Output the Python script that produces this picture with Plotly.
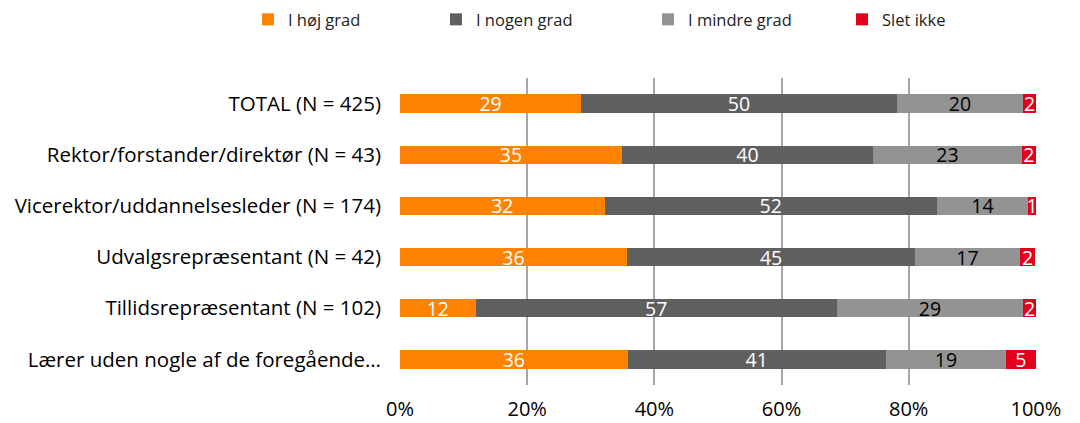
import plotly.graph_objects as go

categories = [
    "TOTAL (N = 425)",
    "Rektor/forstander/direktør (N = 43)",
    "Vicerektor/uddannelsesleder (N = 174)",
    "Udvalgsrepræsentant (N = 42)",
    "Tillidsrepræsentant (N = 102)",
    "Lærer uden nogle af de foregående…",
]

hoej_grad = [28.5, 34.9, 32.2, 35.7, 11.9, 35.8]
nogen_grad = [49.6, 39.5, 52.2, 45.3, 56.8, 40.6]
mindre_grad = [19.9, 23.4, 14.4, 16.5, 29.3, 18.9]
slet_ikke = [2.0, 2.2, 1.2, 2.4, 2.0, 4.7]

series = [
    ("I høj grad", hoej_grad, "#FF8200", "white", "legend"),
    ("I nogen grad", nogen_grad, "#5F5F5F", "white", "legend"),
    ("I mindre grad", mindre_grad, "#939393", "black", "legend2"),
    ("Slet ikke", slet_ikke, "#E3001B", "white", "legend2"),
]

FONT = "Open Sans, Noto Sans, sans-serif"

fig = go.Figure()

for name, values, color, txtcolor, leg in series:
    fig.add_trace(go.Bar(
        y=categories,
        x=values,
        name=name,
        legend=leg,
        orientation="h",
        marker=dict(color=color, line=dict(width=0)),
        width=0.36,
        text=[str(int(v + 0.5)) for v in values],
        textposition="inside",
        textangle=0,
        insidetextanchor="middle",
        constraintext="none",
        textfont=dict(color=txtcolor, size=19.5, family=FONT),
        cliponaxis=False,
    ))

# legend split in two so a single row fits without pushing the margins
legend_style = dict(
    orientation="h",
    xref="container", xanchor="left",
    yref="container", y=0.995, yanchor="top",
    font=dict(size=16.5, color="#222222"),
    traceorder="normal",
)

fig.update_layout(
    barmode="stack",
    width=1080,
    height=423,
    margin=dict(l=400, r=44, t=78, b=38),
    plot_bgcolor="white",
    paper_bgcolor="white",
    font=dict(family=FONT, size=19, color="black"),
    showlegend=True,
    legend=dict(legend_style, x=0.2296, entrywidth=143),
    legend2=dict(legend_style, x=0.6, entrywidth=149),
    xaxis=dict(
        range=[0, 100.02],
        tickvals=[0, 20, 40, 60, 80, 100],
        ticktext=["0%", "20%", "40%", "60%", "80%", "100%"],
        showgrid=True,
        gridcolor="#A6A6A6",
        gridwidth=1.5,
        zeroline=False,
        showline=False,
        automargin=False,
        tickfont=dict(size=20),
        ticklabelstandoff=10,
    ),
    yaxis=dict(
        categoryorder="array",
        categoryarray=categories,
        autorange="reversed",
        showgrid=False,
        automargin=False,
        ticklabelstandoff=18,
        tickfont=dict(size=20.5),
    ),
)

# drop the default 8px page margin so the figure sits at the window corner
fig.write_html("out.html", config={"displayModeBar": False},
               post_script="document.body.style.margin = '0';")
